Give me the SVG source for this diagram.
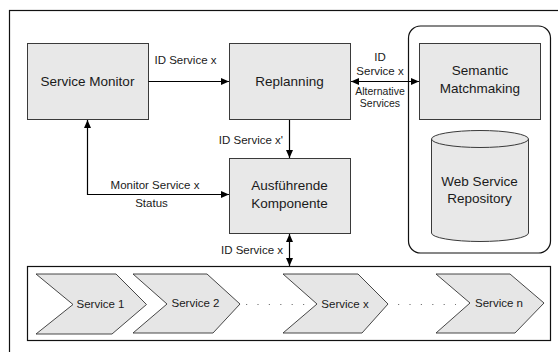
<svg xmlns="http://www.w3.org/2000/svg" width="558" height="352" viewBox="0 0 558 352">
  <style>
    .box { fill: #e8e8e8; stroke: #3a3a3a; stroke-width: 1; }
    .frame { fill: none; stroke: #111; stroke-width: 1.2; }
    .panel { fill: #fff; stroke: #111; stroke-width: 1.2; }
    .chev { fill: #e6e6e6; stroke: #333; stroke-width: 0.9; }
    .conn { fill: none; stroke: #000; stroke-width: 1.2; }
    .dots { fill: none; stroke: #777; stroke-width: 1.2; stroke-dasharray: 1.2 10.2; }
    text { font-family: "Liberation Sans", Arial, sans-serif; fill: #1a1a1a; }
    .big { font-size: 13.5px; text-anchor: middle; }
    .lbl { font-size: 11.5px; }
    .small { font-size: 10.5px; text-anchor: middle; }
    .srv { font-size: 11.5px; text-anchor: middle; }
  </style>
  <defs>
    <marker id="arrow" markerUnits="userSpaceOnUse" markerWidth="9" markerHeight="8" refX="8" refY="3.5" orient="auto-start-reverse">
      <path d="M0,0 L8,3.5 L0,7 z" fill="#000"/>
    </marker>
  </defs>

  <rect width="558" height="352" fill="#fff"/>

  <!-- outer frame -->
  <rect class="frame" x="9.5" y="10.5" width="560" height="360"/>

  <!-- repository container -->
  <g id="repo-container">
    <rect class="frame" x="408.5" y="26" width="142" height="227" rx="12" ry="12"/>
  </g>

  <g id="service-monitor">
    <rect class="box" x="27.5" y="43.5" width="121" height="76"/>
    <text class="big" x="87.5" y="86">Service Monitor</text>
  </g>

  <g id="replanning">
    <rect class="box" x="229.5" y="43.5" width="121" height="76"/>
    <text class="big" x="289.5" y="86">Replanning</text>
  </g>

  <g id="semantic-matchmaking">
    <rect class="box" x="419.5" y="43.5" width="121" height="76"/>
    <text class="big" x="480" y="75">Semantic</text>
    <text class="big" x="480" y="93">Matchmaking</text>
  </g>

  <g id="ausfuehrende-komponente">
    <rect class="box" x="229.5" y="158.5" width="121" height="75"/>
    <text class="big" x="289.5" y="190">Ausführende</text>
    <text class="big" x="289.5" y="207.5">Komponente</text>
  </g>

  <g id="web-service-repository">
    <path class="box" d="M431.5,139 A48.5,8.5 0 0 1 528.5,139 V233 A48.5,8.5 0 0 1 431.5,233 Z"/>
    <path fill="none" stroke="#3a3a3a" stroke-width="1" d="M431.5,139 A48.5,8.5 0 0 0 528.5,139"/>
    <text class="big" x="479.5" y="186">Web Service</text>
    <text class="big" x="479.5" y="203">Repository</text>
  </g>

  <!-- service chain -->
  <g id="service-chain">
    <rect class="panel" x="27.5" y="266.5" width="523" height="74"/>
    <g id="service-1">
      <polygon class="chev" points="36,274 116,274 146.5,304.5 112,334 36,334 73,304.5"/>
      <text class="srv" x="100.5" y="308">Service 1</text>
    </g>
    <g id="service-2">
      <polygon class="chev" points="133,274 207,274 240,304 213,333 133,333 167,304"/>
      <text class="srv" x="195.5" y="306.5">Service 2</text>
    </g>
    <g id="service-x">
      <polygon class="chev" points="283,274 358,274 388,304 362,333 283,333 317,304"/>
      <text class="srv" x="345" y="308">Service x</text>
    </g>
    <g id="service-n">
      <polygon class="chev" points="436,274 510,274 544,303 515,333 436,333 470,303"/>
      <text class="srv" x="499" y="306.5">Service n</text>
    </g>
    <path class="dots" d="M246,304.5 H306 M398,304.5 H456"/>
  </g>

  <!-- connectors -->
  <g id="connectors">
    <path class="conn" d="M148.5,81.5 H229" marker-end="url(#arrow)"/>
    <path class="conn" d="M351,81.5 H419" marker-start="url(#arrow)" marker-end="url(#arrow)"/>
    <path class="conn" d="M289.5,120 V158" marker-end="url(#arrow)"/>
    <path class="conn" d="M229,194.5 H87.5 V120" marker-start="url(#arrow)" marker-end="url(#arrow)"/>
    <path class="conn" d="M289.5,234 V266" marker-start="url(#arrow)" marker-end="url(#arrow)"/>
  </g>

  <!-- connector labels -->
  <g id="labels">
    <text class="lbl" x="185.5" y="63.5" text-anchor="middle">ID Service x</text>
    <text class="lbl" x="380" y="61" text-anchor="middle">ID</text>
    <text class="lbl" x="380" y="74.5" text-anchor="middle">Service x</text>
    <text class="small" x="380" y="94.5">Alternative</text>
    <text class="small" x="380" y="107">Services</text>
    <text class="lbl" x="283" y="143.5" text-anchor="end">ID Service x'</text>
    <text class="lbl" x="155" y="188.5" text-anchor="middle">Monitor Service x</text>
    <text class="lbl" x="151.5" y="207" text-anchor="middle">Status</text>
    <text class="lbl" x="283" y="253.5" text-anchor="end">ID Service x</text>
  </g>
</svg>
